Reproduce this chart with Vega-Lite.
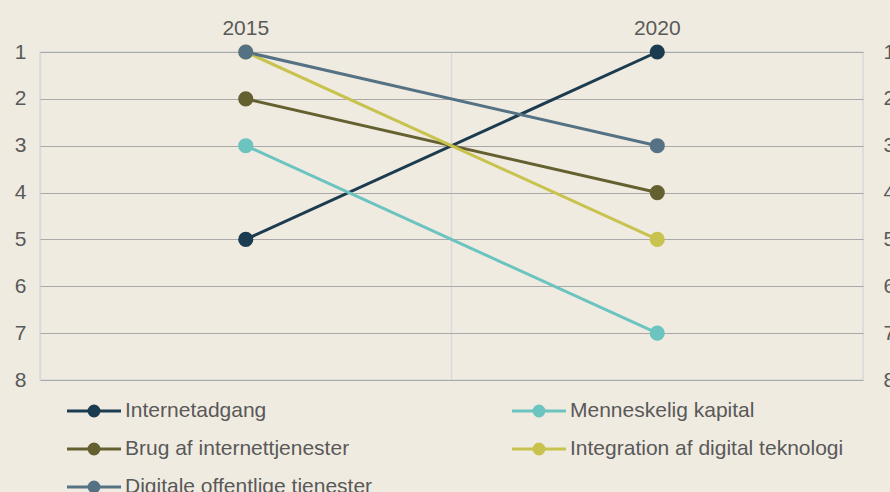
{
  "$schema": "https://vega.github.io/schema/vega-lite/v6.json",
  "autosize": {"type": "none"},
  "width": 823,
  "height": 328,
  "padding": {"left": 40, "top": 52, "right": 27, "bottom": 112},
  "background": "#F0EBE0",
  "config": {
    "font": "Liberation Sans",
    "view": {"stroke": "#D9D9D9", "strokeWidth": 1.5},
    "axis": {"labelFont": "Liberation Sans", "labelFontSize": 21, "labelColor": "#595959", "ticks": false, "domain": false, "title": null},
    "legend": {"labelFont": "Liberation Sans", "labelFontSize": 21, "labelColor": "#595959"}
  },
  "data": {
    "values": [
      {"serie": "Internetadgang", "aar": "2015", "rang": 5},
      {"serie": "Internetadgang", "aar": "2020", "rang": 1},
      {"serie": "Menneskelig kapital", "aar": "2015", "rang": 3},
      {"serie": "Menneskelig kapital", "aar": "2020", "rang": 7},
      {"serie": "Brug af internettjenester", "aar": "2015", "rang": 2},
      {"serie": "Brug af internettjenester", "aar": "2020", "rang": 4},
      {"serie": "Integration af digital teknologi", "aar": "2015", "rang": 1},
      {"serie": "Integration af digital teknologi", "aar": "2020", "rang": 5},
      {"serie": "Digitale offentlige tjenester", "aar": "2015", "rang": 1},
      {"serie": "Digitale offentlige tjenester", "aar": "2020", "rang": 3}
    ]
  },
  "encoding": {
    "x": {
      "field": "aar", "type": "ordinal",
      "scale": {"type": "band", "paddingInner": 0, "paddingOuter": 0},
      "axis": {"orient": "top", "labelAngle": 0, "labelPadding": 14, "grid": true, "bandPosition": 0, "gridColor": "#D9D9D9", "gridWidth": 1.5}
    },
    "color": {
      "field": "serie", "type": "nominal",
      "scale": {
        "domain": ["Internetadgang", "Brug af internettjenester", "Digitale offentlige tjenester", "Menneskelig kapital", "Integration af digital teknologi"],
        "range": ["#1B3C50", "#646030", "#557285", "#6CC4C0", "#C8C24E"]
      },
      "legend": {
        "title": null,
        "orient": "none",
        "legendX": 39,
        "legendY": 344,
        "columns": 2,
        "columnPadding": 133,
        "rowPadding": 12,
        "padding": 0,
        "symbolType": "M-2,0H2M-0.37,0A0.37,0.37 0 1,0 0.37,0A0.37,0.37 0 1,0 -0.37,0Z",
        "symbolSize": 729,
        "symbolStrokeWidth": 3,
        "labelOffset": 16,
        "labelLimit": 400,
        "encode": {
          "symbols": {
            "update": {
              "fill": {"scale": "color", "field": "value"},
              "stroke": {"scale": "color", "field": "value"},
              "opacity": {"value": 1},
              "fillOpacity": {"value": 1}
            }
          }
        }
      }
    }
  },
  "layer": [
    {
      "mark": {"type": "line", "strokeWidth": 3},
      "encoding": {
        "y": {
          "field": "rang", "type": "quantitative",
          "scale": {"domain": [1, 8], "reverse": true, "nice": false, "zero": false},
          "axis": {"orient": "left", "values": [1, 2, 3, 4, 5, 6, 7, 8], "grid": true, "gridColor": "#A9A9A9", "gridWidth": 1, "labelPadding": 14}
        }
      }
    },
    {
      "mark": {"type": "point", "filled": true, "size": 230, "opacity": 1},
      "encoding": {
        "y": {
          "field": "rang", "type": "quantitative",
          "scale": {"domain": [1, 8], "reverse": true, "nice": false, "zero": false},
          "axis": {"orient": "right", "values": [1, 2, 3, 4, 5, 6, 7, 8], "grid": false, "labelPadding": 20, "labelAlign": "left"}
        }
      }
    }
  ],
  "resolve": {"axis": {"y": "independent"}}
}
